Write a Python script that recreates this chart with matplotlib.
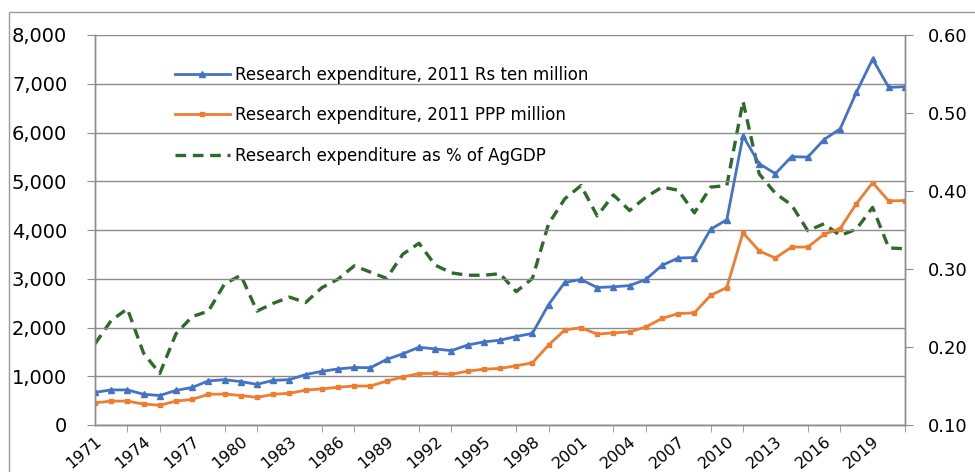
import matplotlib
matplotlib.use("Agg")
import matplotlib.pyplot as plt
from matplotlib.patches import Rectangle

plt.rcParams["font.family"] = "DejaVu Sans"

years = list(range(1971, 2022))

rs_ten_million = [
    670, 720, 720, 630, 605, 710, 770, 905, 930, 890,
    835, 915, 930, 1035, 1100, 1150, 1180, 1175, 1345, 1460,
    1595, 1560, 1525, 1640, 1705, 1740, 1815, 1880, 2470, 2925,
    2985, 2820, 2835, 2860, 2985, 3275, 3425, 3435, 4015, 4210,
    5930, 5360, 5155, 5505, 5495, 5855, 6075, 6825, 7505, 6925,
    6940,
]

ppp_million = [
    455, 490, 490, 430, 405, 490, 525, 630, 635, 605,
    565, 630, 650, 715, 740, 775, 800, 800, 900, 985,
    1055, 1058, 1040, 1105, 1145, 1160, 1215, 1275, 1640, 1950,
    1995, 1865, 1890, 1910, 2010, 2185, 2285, 2300, 2660, 2820,
    3945, 3570, 3425, 3650, 3650, 3910, 4030, 4540, 4970, 4595,
    4605,
]

pct_aggdp = [
    0.204, 0.234, 0.249, 0.192, 0.166, 0.217, 0.239, 0.246, 0.281, 0.292,
    0.246, 0.256, 0.264, 0.257, 0.276, 0.287, 0.304, 0.296, 0.288, 0.319,
    0.333, 0.305, 0.295, 0.292, 0.292, 0.294, 0.271, 0.288, 0.358, 0.390,
    0.407, 0.368, 0.395, 0.375, 0.392, 0.405, 0.401, 0.372, 0.405, 0.407,
    0.515, 0.422, 0.397, 0.382, 0.349, 0.358, 0.343, 0.351, 0.379, 0.327,
    0.326,
]

label_years = list(range(1971, 2020, 3))
left_ticks = list(range(0, 8001, 1000))
right_ticks = [0.10, 0.20, 0.30, 0.40, 0.50, 0.60]

BLUE = "#4472C4"
ORANGE = "#ED7D31"
GREEN = "#2E6A2A"
GRID = "#8C8C8C"

fig = plt.figure(figsize=(9.75, 4.72), dpi=100)
ax = fig.add_axes([95 / 975, 1 - 425 / 472, 810 / 975, 390 / 472])
ax2 = ax.twinx()

# rahmen des diagramms (im original nur oben/links sichtbar)
fig.patches.append(Rectangle((9 / 975, -0.1), 1.2, 1 - 12 / 472 + 0.1,
                             transform=fig.transFigure, fill=False,
                             edgecolor="#9A9A9A", linewidth=1.0))

l1, = ax.plot(years, rs_ten_million, color=BLUE, linewidth=2.0,
              marker="^", markersize=4.5, label="Research expenditure, 2011 Rs ten million")
l2, = ax.plot(years, ppp_million, color=ORANGE, linewidth=2.0,
              marker="s", markersize=3.5, label="Research expenditure, 2011 PPP million")
l3, = ax2.plot(years, pct_aggdp, color=GREEN, linewidth=2.4,
               linestyle=(0, (3.2, 2.0)), label="Research expenditure as % of AgGDP")

ax.set_xlim(1971, 2021)
ax.set_ylim(0, 8000)
ax2.set_ylim(0.10, 0.60)

ax.set_yticks(left_ticks)
ax.set_yticklabels([f"{v:,}" for v in left_ticks])
ax2.set_yticks(right_ticks)
ax2.set_yticklabels([f"{v:.2f}" for v in right_ticks])

ax.set_xticks(label_years)
ax.set_xticklabels([str(y) for y in label_years], rotation=40, ha="right",
                   va="top", rotation_mode="anchor", fontsize=11.5)
ax.set_xticks(list(range(1971, 2022, 2)), minor=True)
ax.tick_params(axis="x", which="major", length=0, pad=6)
ax.tick_params(axis="x", which="minor", length=5, color=GRID, direction="out")
ax.tick_params(axis="y", length=6, color=GRID, labelsize=14, pad=14)
ax2.tick_params(axis="y", length=6, color=GRID, labelsize=13, pad=10.5)

ax.yaxis.grid(True, color=GRID, linewidth=1.0)
ax.set_axisbelow(True)
for a in (ax, ax2):
    a.spines["top"].set_visible(False)
    for s in ("left", "right", "bottom"):
        a.spines[s].set_color(GRID)
        a.spines[s].set_linewidth(1.0)
ax.set_zorder(ax2.get_zorder() + 1)
ax.patch.set_visible(False)

ax.legend(handles=[l1, l2, l3], loc="upper left", bbox_to_anchor=(0.08, 0.96),
          frameon=False, fontsize=12, handlelength=3.3, handletextpad=0.3,
          labelspacing=1.35)

fig.savefig("out.png", dpi=100)
